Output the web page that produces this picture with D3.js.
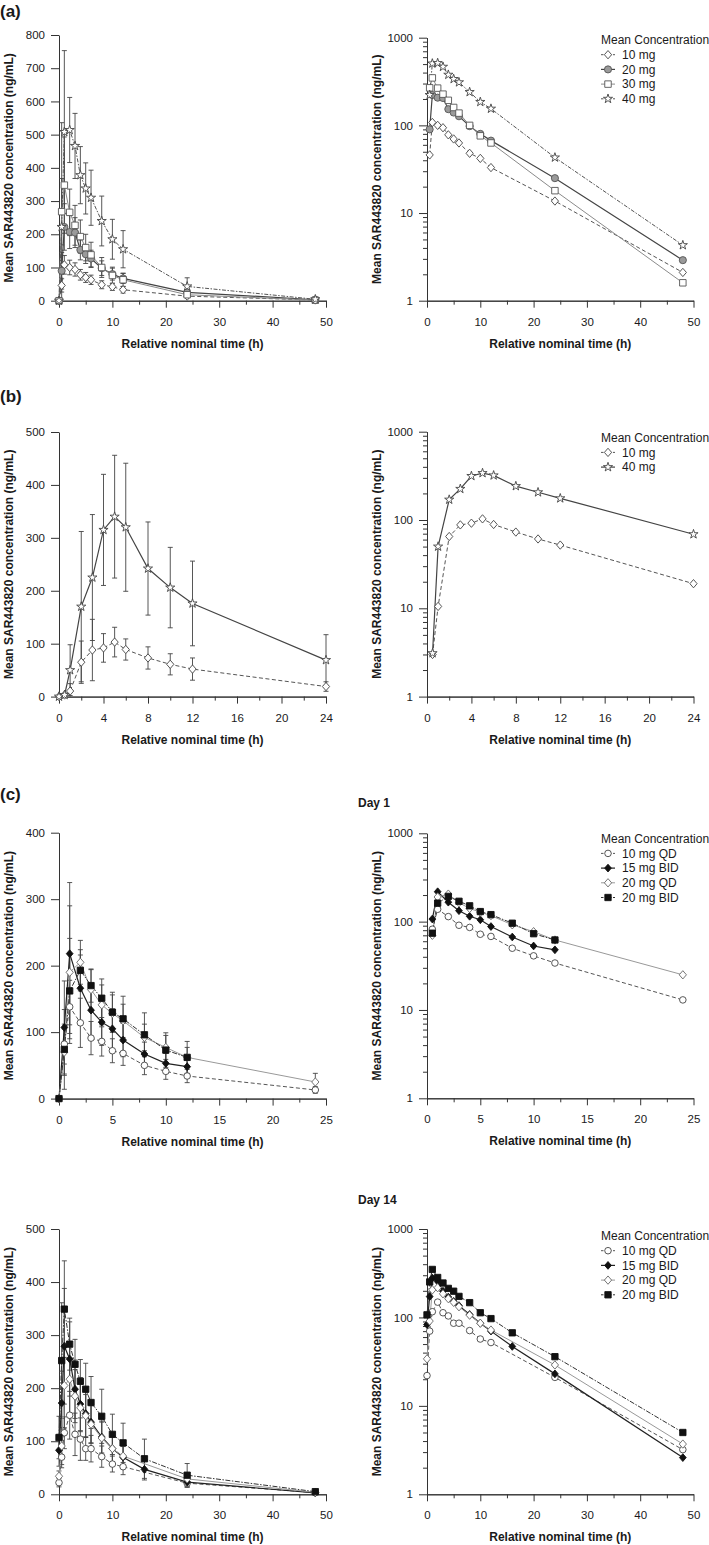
<!DOCTYPE html>
<html>
<head>
<meta charset="utf-8">
<script src="https://cdn.jsdelivr.net/npm/d3@7"></script>
<style>
  body { margin: 0; background: #fff; }
  svg text { font-family: "Liberation Sans", Arial, sans-serif; fill: #1a1a1a; }
</style>
</head>
<body>
<svg id="chart" width="709" height="1545"></svg>
<script>
// ---- (a) single dose ----
const timesA = [0, 0.5, 1, 2, 3, 4, 5, 6, 8, 10, 12, 24, 48];
const a10 = [0, 46, 108, 100, 94, 78, 70, 63, 48, 42, 33, 13.7, 2.1];
const a10sd = [0, 20, 28, 22, 20, 16, 15, 14, 12, 11, 10, 4, 0.8];
const a20 = [0, 90, 222, 207, 205, 153, 140, 127, 98, 80, 67, 25, 2.9];
const a20sd = [0, 55, 70, 50, 45, 30, 28, 25, 22, 18, 15, 8, 1];
const a30 = [0, 268, 348, 266, 227, 193, 160, 138, 100, 76, 63, 18, 1.6];
const a30sd = [0, 100, 145, 70, 60, 50, 40, 38, 30, 25, 20, 8, 0.8];
const a40 = [0, 222, 508, 514, 466, 378, 338, 310, 240, 185, 155, 43, 4.3];
const a40sd = [0, 314, 245, 98, 98, 86, 77, 83, 75, 60, 56, 26, 2];

// ---- (b) ----
const timesB = [0, 0.5, 1, 2, 3, 4, 5, 6, 8, 10, 12, 24];
const b10 = [0, 3, 10.5, 65, 88, 92, 103, 89, 73, 61, 52, 19];
const b10sd = [0, 3, 14, 40, 58, 27, 28, 20, 21, 20, 21, 9];
const b40 = [0, 3.1, 50, 170, 225, 315, 340, 320, 242, 206, 176, 69];
const b40sd = [0, 3, 48, 142, 119, 105, 116, 121, 88, 76, 80, 48];

// ---- (c) Day 1 ----
const timesD1qd = [0, 0.5, 1, 2, 3, 4, 5, 6, 8, 10, 12, 24];
const timesD1bid = [0, 0.5, 1, 2, 3, 4, 5, 6, 8, 10, 12];
const d1qd10 = [0, 82, 138, 114, 91, 86, 72, 68, 50, 41, 34, 13];
const d1qd10sd = [0, 30, 40, 37, 25, 22, 18, 18, 14, 12, 10, 5];
const d1bid15 = [0, 107, 218, 166, 133, 115, 105, 88, 67, 53, 48];
const d1bid15sd = [0, 70, 107, 50, 40, 35, 30, 25, 18, 15, 12];
const d1qd20 = [0, 70, 190, 205, 164, 141, 128, 117, 92, 77, 62, 25];
const d1qd20sd = [0, 35, 100, 33, 30, 30, 28, 25, 20, 18, 15, 13];
const d1bid20 = [0, 74, 162, 193, 170, 151, 130, 120, 96, 73, 62];
const d1bid20sd = [0, 60, 79, 31, 25, 29, 30, 34, 33, 26, 24];

// ---- (c) Day 14 ----
const timesD14qd = [0, 0.5, 1, 2, 3, 4, 5, 6, 8, 10, 12, 24, 48];
const timesD14bid = [0, 0.5, 1, 2, 3, 4, 5, 6, 8, 10, 12, 16, 24, 48];
const d14qd10 = [22, 70, 116, 149, 113, 104, 86, 86, 71, 57, 52, 21, 3.2];
const d14qd10sd = [8, 20, 30, 45, 40, 40, 22, 25, 20, 15, 15, 6, 1];
const d14bid15 = [83, 172, 279, 255, 198, 170, 152, 136, 108, 86, 70, 47, 23, 2.6];
const d14bid15sd = [30, 60, 109, 70, 55, 50, 45, 40, 30, 25, 20, 20, 10, 1];
const d14qd20 = [34, 91, 205, 217, 185, 163, 148, 132, 106, 86, 72, 29, 3.7];
const d14qd20sd = [10, 35, 80, 70, 50, 45, 40, 35, 30, 25, 20, 9, 1];
const d14bid20 = [107, 252, 349, 283, 245, 213, 198, 173, 147, 113, 97, 67, 36, 5];
const d14bid20sd = [40, 109, 91, 49, 47, 41, 49, 49, 51, 38, 37, 37, 22, 2];

const yTitle = 'Mean SAR443820 concentration (ng/mL)';
const xTitle = 'Relative nominal time (h)';
const legendTitle = 'Mean Concentration';

const svg = d3.select('#chart');

// squarish diamond, a little taller than wide
const diamond = {
    draw(ctx, size) {
        const w = Math.sqrt(size / 2.3);
        const h = w * 1.15;
        ctx.moveTo(0, -h);
        ctx.lineTo(w, 0);
        ctx.lineTo(0, h);
        ctx.lineTo(-w, 0);
        ctx.closePath();
    }
};

// series styles
const st = {
    dashDia:  {stroke: '#555', dash: '4,2.5', w: 1, sym: diamond, size: 30, fill: '#fff', ms: '#444'},
    grayCirc: {stroke: '#444', dash: null, w: 1.2, sym: d3.symbolCircle, size: 40, fill: '#9a9a9a', ms: '#555'},
    lightSq:  {stroke: '#8a8a8a', dash: null, w: 1, sym: d3.symbolSquare, size: 42, fill: '#fff', ms: '#555'},
    dotStar:  {stroke: '#555', dash: '4,1.5,1.5,1.5', w: 1, sym: d3.symbolStar, size: 26, fill: '#fff', ms: '#444'},
    solidStar:{stroke: '#444', dash: null, w: 1.2, sym: d3.symbolStar, size: 26, fill: '#fff', ms: '#444'},
    dashCirc: {stroke: '#555', dash: '4,2.5', w: 1, sym: d3.symbolCircle, size: 34, fill: '#fff', ms: '#444'},
    blackDia: {stroke: '#222', dash: null, w: 1.2, sym: diamond, size: 26, fill: '#111', ms: '#111'},
    grayDia:  {stroke: '#999', dash: null, w: 1, sym: diamond, size: 30, fill: '#fff', ms: '#666'},
    blackSq:  {stroke: '#333', dash: '5,1.5,1.5,1.5', w: 1, sym: d3.symbolSquare, size: 40, fill: '#111', ms: '#111'}
};

const zip = (t, v, sd) => t.map((d, i) => ({t: d, v: v[i], sd: sd ? sd[i] : 0}));

const seriesA = [
    {name: '10 mg', s: st.dashDia, pts: zip(timesA, a10, a10sd)},
    {name: '20 mg', s: st.grayCirc, pts: zip(timesA, a20, a20sd)},
    {name: '30 mg', s: st.lightSq, pts: zip(timesA, a30, a30sd)},
    {name: '40 mg', s: st.dotStar, pts: zip(timesA, a40, a40sd)}
];
const seriesB = [
    {name: '10 mg', s: st.dashDia, pts: zip(timesB, b10, b10sd)},
    {name: '40 mg', s: st.solidStar, pts: zip(timesB, b40, b40sd)}
];
const seriesD1 = [
    {name: '10 mg QD', s: st.dashCirc, pts: zip(timesD1qd, d1qd10, d1qd10sd)},
    {name: '15 mg BID', s: st.blackDia, pts: zip(timesD1bid, d1bid15, d1bid15sd)},
    {name: '20 mg QD', s: st.grayDia, pts: zip(timesD1qd, d1qd20, d1qd20sd)},
    {name: '20 mg BID', s: st.blackSq, pts: zip(timesD1bid, d1bid20, d1bid20sd)}
];
const seriesD14 = [
    {name: '10 mg QD', s: st.dashCirc, pts: zip(timesD14qd, d14qd10, d14qd10sd)},
    {name: '15 mg BID', s: st.blackDia, pts: zip(timesD14bid, d14bid15, d14bid15sd)},
    {name: '20 mg QD', s: st.grayDia, pts: zip(timesD14qd, d14qd20, d14qd20sd)},
    {name: '20 mg BID', s: st.blackSq, pts: zip(timesD14bid, d14bid20, d14bid20sd)}
];

const ticks50 = [[0, 10, 20, 30, 40, 50], [5, 15, 25, 35, 45]];
const ticks24 = [[0, 4, 8, 12, 16, 20, 24], [2, 6, 10, 14, 18, 22]];
const ticks25 = [[0, 5, 10, 15, 20, 25], [2.5, 7.5, 12.5, 17.5, 22.5]];
const logMinor = [];
[1, 10, 100].forEach(d => { for (let k = 2; k < 10; k++) logMinor.push(d * k); });

function styleAxis(sel) {
    sel.attr('font-size', null).attr('font-family', null);
    sel.selectAll('path, line').attr('stroke', '#333').attr('stroke-width', 1);
    sel.selectAll('text').style('font-size', '11.5px');
}

function drawPanel(p) {
    const g = svg.append('g');
    const x = d3.scaleLinear().domain([0, p.xMax]).range([p.x0, p.x1]);
    const y = p.log
        ? d3.scaleLog().domain([1, 1000]).range([p.yBot, p.yTop])
        : d3.scaleLinear().domain([0, p.yMax]).range([p.yBot, p.yTop]);

    // axes
    g.append('g').attr('transform', `translate(0,${p.yBot})`)
        .call(d3.axisBottom(x).tickValues(p.xt[1]).tickSize(4).tickFormat('').tickSizeOuter(0))
        .call(styleAxis);
    g.append('g').attr('transform', `translate(0,${p.yBot})`)
        .call(d3.axisBottom(x).tickValues(p.xt[0]).tickSize(7).tickPadding(10).tickSizeOuter(0))
        .call(styleAxis);
    if (p.log) {
        g.append('g').attr('transform', `translate(${p.x0},0)`)
            .call(d3.axisLeft(y).tickValues(logMinor).tickSize(4).tickFormat('').tickSizeOuter(0))
            .call(styleAxis);
        g.append('g').attr('transform', `translate(${p.x0},0)`)
            .call(d3.axisLeft(y).tickValues([1, 10, 100, 1000]).tickFormat(d3.format('d'))
                .tickSize(8).tickPadding(6).tickSizeOuter(0))
            .call(styleAxis);
    } else {
        g.append('g').attr('transform', `translate(${p.x0},0)`)
            .call(d3.axisLeft(y).tickValues(d3.range(0, p.yMax + 1, 100))
                .tickSize(8).tickPadding(6).tickSizeOuter(0))
            .call(styleAxis);
    }

    // axis titles
    g.append('text')
        .attr('x', (p.x0 + p.x1) / 2).attr('y', p.yBot + 47)
        .attr('text-anchor', 'middle')
        .style('font-size', '12px').style('font-weight', 'bold')
        .text(xTitle);
    g.append('text')
        .attr('transform', `translate(${p.x0 - 46.5},${(p.yTop + p.yBot) / 2}) rotate(-90)`)
        .attr('text-anchor', 'middle')
        .style('font-size', '12px').style('font-weight', 'bold')
        .text(yTitle);

    const ok = d => !p.log || d.v > 0;
    const line = d3.line().x(d => x(d.t)).y(d => y(d.v));

    // error bars (linear plots only)
    if (!p.log) {
        p.series.forEach(se => {
            se.pts.filter(d => d.sd > 0).forEach(d => {
                const hi = y(d.v + d.sd);
                const loV = d.v - d.sd;
                const lo = y(Math.max(0, loV));
                const cx = x(d.t);
                const eb = g.append('g').attr('stroke', '#444').attr('stroke-width', 0.9);
                eb.append('line').attr('x1', cx).attr('x2', cx).attr('y1', lo).attr('y2', hi);
                eb.append('line').attr('x1', cx - 2.5).attr('x2', cx + 2.5).attr('y1', hi).attr('y2', hi);
                if (loV > 0) eb.append('line').attr('x1', cx - 2.5).attr('x2', cx + 2.5).attr('y1', lo).attr('y2', lo);
            });
        });
    }

    // lines
    p.series.forEach(se => {
        g.append('path')
            .datum(se.pts.filter(ok))
            .attr('d', line)
            .attr('fill', 'none')
            .attr('stroke', se.s.stroke)
            .attr('stroke-width', se.s.w)
            .attr('stroke-dasharray', se.s.dash);
    });
    // markers
    p.series.forEach(se => {
        g.selectAll(null)
            .data(se.pts.filter(ok))
            .enter()
            .append('path')
            .attr('transform', d => `translate(${x(d.t)},${y(d.v)})`)
            .attr('d', d3.symbol().type(se.s.sym).size(se.s.size))
            .attr('fill', se.s.fill)
            .attr('stroke', se.s.ms)
            .attr('stroke-width', 0.9);
    });

    // legend
    if (p.legendY) {
        const lx = 601;
        g.append('text').attr('x', lx).attr('y', p.legendY).attr('dy', '0.35em')
            .style('font-size', '12px').text(legendTitle);
        p.series.forEach((se, i) => {
            const ly = p.legendY + 14.7 * (i + 1);
            g.append('line').attr('x1', lx).attr('x2', lx + 14).attr('y1', ly).attr('y2', ly)
                .attr('stroke', se.s.stroke).attr('stroke-width', se.s.w)
                .attr('stroke-dasharray', se.s.dash ? '2.5,1.5' : null);
            g.append('path').attr('transform', `translate(${lx + 7},${ly})`)
                .attr('d', d3.symbol().type(se.s.sym).size(se.s.size))
                .attr('fill', se.s.fill).attr('stroke', se.s.ms).attr('stroke-width', 0.9);
            g.append('text').attr('x', lx + 21).attr('y', ly).attr('dy', '0.35em')
                .style('font-size', '12px').text(se.name);
        });
    }
}

const L = {x0: 59, x1: 326};
const R = {x0: 427, x1: 693.5};

drawPanel({...L, yTop: 35, yBot: 300.7, xMax: 50, xt: ticks50, yMax: 800, series: seriesA});
drawPanel({...R, yTop: 37.7, yBot: 300.7, xMax: 50, xt: ticks50, log: true, series: seriesA, legendY: 40});
drawPanel({...L, yTop: 432, yBot: 696.6, xMax: 24, xt: ticks24, yMax: 500, series: seriesB});
drawPanel({...R, yTop: 431.7, yBot: 696.6, xMax: 24, xt: ticks24, log: true, series: seriesB, legendY: 437.7});
drawPanel({...L, yTop: 832.7, yBot: 1098.6, xMax: 25, xt: ticks25, yMax: 400, series: seriesD1});
drawPanel({...R, yTop: 833.3, yBot: 1098.3, xMax: 25, xt: ticks25, log: true, series: seriesD1, legendY: 838.7});
drawPanel({...L, yTop: 1229, yBot: 1494.3, xMax: 50, xt: ticks50, yMax: 500, series: seriesD14});
drawPanel({...R, yTop: 1229, yBot: 1494.3, xMax: 50, xt: ticks50, log: true, series: seriesD14, legendY: 1236});

// panel labels
[['(a)', 16.5], ['(b)', 401.5], ['(c)', 800]].forEach(([t, yy]) => {
    svg.append('text').attr('x', 0).attr('y', yy)
        .style('font-size', '17px').style('font-weight', 'bold').text(t);
});
[['Day 1', 806.5], ['Day 14', 1203.5]].forEach(([t, yy]) => {
    svg.append('text').attr('x', 358).attr('y', yy)
        .style('font-size', '12px').style('font-weight', 'bold').text(t);
});
</script>
</body>
</html>
